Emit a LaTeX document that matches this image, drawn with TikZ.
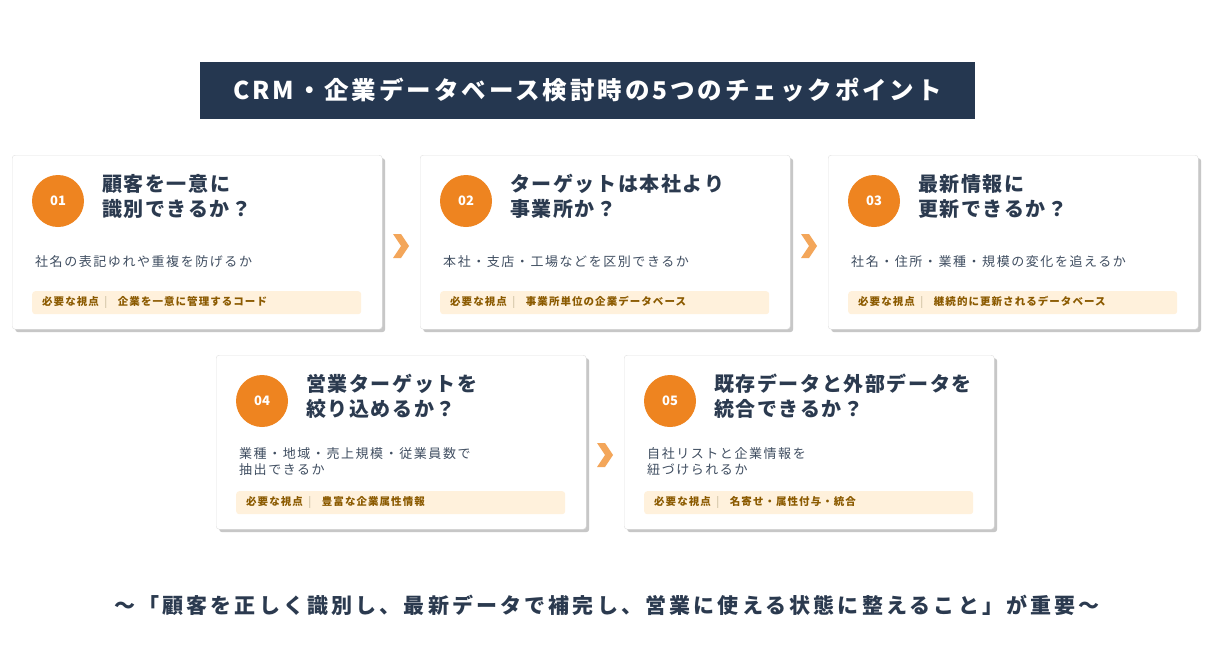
\documentclass[tikz,border=0pt]{standalone}
\usepackage{fontspec}
\setmainfont{Noto Sans CJK JP}
\usetikzlibrary{positioning}
\definecolor{navy}{HTML}{253750}
\definecolor{ink}{HTML}{2B3A4F}
\definecolor{orng}{HTML}{EE8420}
\definecolor{tagbg}{HTML}{FFF1DC}
\definecolor{tagfg}{HTML}{8B5A00}
\definecolor{chev}{HTML}{F3A65A}
\newcommand\spaced[1]{\addfontfeature{LetterSpace=#1}}
\tikzset{
  card/.style={draw=black!12,fill=white,rounded corners=3pt,minimum width=370pt,minimum height=174pt,anchor=north west},
  shadow/.style={fill=black!22,rounded corners=3pt,minimum width=370pt,minimum height=174pt,anchor=north west},
  num/.style={circle,fill=orng,minimum size=52pt,text=white,font=\bfseries\fontsize{13}{13}\selectfont},
  ttl/.style={anchor=north west,text=ink,align=left,inner sep=0pt,font=\bfseries\fontsize{20}{25}\selectfont\spaced{8}},
  desc/.style={anchor=west,text=ink!90,align=left,inner sep=0pt,font=\fontsize{13}{16}\selectfont\spaced{12}},
  tag/.style={anchor=north west,fill=tagbg,rounded corners=3pt,minimum height=23pt,text=tagfg,font=\bfseries\fontsize{10.5}{12}\selectfont\spaced{10},align=left,text width=309pt,inner xsep=10pt},
}
\newcommand\chkcard[7]{% name, x, y, num, title, desc, tag
  \node[shadow] at (#2+3,#3+3) {};
  \node[card] (#1) at (#2,#3) {};
  \node[num] (#1n) at (#2+46,#3+46) {#4};
  \node[ttl] (#1t) at (#2+90,#3+19) {#5};
  \node[desc] (#1d) at (#2+23,#3+107) {#6};
  \node[tag] (#1g) at (#2+20,#3+136) {必要な視点\enspace\textcolor{tagfg!30}{|}\quad #7};
}
\newcommand\chevron[2]{%
  \fill[chev] (#1-7,#2-12) -- (#1+1,#2-12) -- (#1+9,#2) -- (#1+1,#2+12) -- (#1-7,#2+12) -- (#1+1,#2) -- cycle;
}
\begin{document}
\begin{tikzpicture}[x=1pt,y=-1pt]
\useasboundingbox (0,0) rectangle (1219,662);
\fill[white] (0,0) rectangle (1219,662);
\node[fill=navy,minimum width=775pt,minimum height=57pt,text=white,font=\bfseries\fontsize{24.5}{24}\selectfont\spaced{12}] (head) at (587.5,90.5) {CRM・企業データベース検討時の5つのチェックポイント};
% row 1
\chkcard{c1}{12}{155}{01}{顧客を一意に\\識別できるか？}{社名の表記ゆれや重複を防げるか}{企業を一意に管理するコード}
\chkcard{c2}{420}{155}{02}{ターゲットは本社より\\事業所か？}{本社・支店・工場などを区別できるか}{事業所単位の企業データベース}
\chkcard{c3}{828}{155}{03}{最新情報に\\更新できるか？}{社名・住所・業種・規模の変化を追えるか}{継続的に更新されるデータベース}
% row 2
\chkcard{c4}{216}{355}{04}{営業ターゲットを\\絞り込めるか？}{業種・地域・売上規模・従業員数で\\抽出できるか}{豊富な企業属性情報}
\chkcard{c5}{624}{355}{05}{既存データと外部データを\\統合できるか？}{自社リストと企業情報を\\紐づけられるか}{名寄せ・属性付与・統合}
\chevron{400}{246}
\chevron{808}{246}
\chevron{604}{455}
\node[text=ink,font=\bfseries\fontsize{21}{21}\selectfont\spaced{15}] (foot) at (607,605) {～「顧客を正しく識別し、最新データで補完し、営業に使える状態に整えること」が重要～};
\end{tikzpicture}
\end{document}
